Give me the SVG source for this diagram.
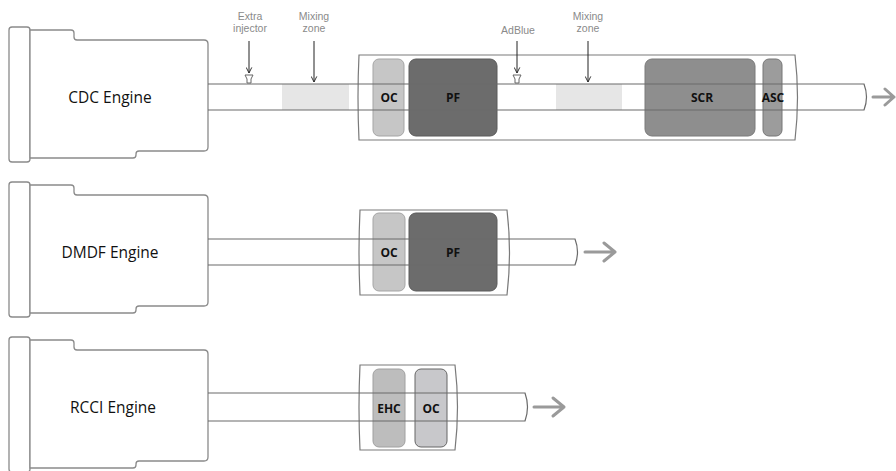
<svg xmlns="http://www.w3.org/2000/svg" width="896" height="471" viewBox="0 0 896 471">
<defs>
<style>
.eng{fill:#fff;stroke:#8a8a8a;stroke-width:1.3}
.elabel{font-family:"Open Sans","Liberation Sans",sans-serif;font-size:15.5px;fill:#111;text-anchor:middle}
.box{fill:#fff;stroke:#7a7a7a;stroke-width:1.2}
.pipe{fill:none;stroke:#6a6a6a;stroke-width:1.2}
.cat{font-family:"Open Sans","Liberation Sans",sans-serif;font-size:12px;font-weight:bold;fill:#111;text-anchor:middle}
.note{font-family:"Liberation Sans","Open Sans",sans-serif;font-size:10.5px;fill:#8a8a8a;text-anchor:middle}
.down{stroke:#222;stroke-width:1;fill:none;marker-end:url(#vhead)}
.out{stroke:#9a9a9a;stroke-width:3;fill:none;stroke-linecap:round;stroke-linejoin:round}
.mix{fill:#e6e6e6}
.noz{fill:#fff;stroke:#666;stroke-width:1}
</style>
<marker id="vhead" viewBox="0 0 10 10" refX="9" refY="5" markerWidth="7" markerHeight="7" orient="auto" markerUnits="userSpaceOnUse">
<path d="M1,1 L9,5 L1,9" fill="none" stroke="#222" stroke-width="1.3"/>
</marker>
<g id="engshape">
<rect x="9" y="27" width="21" height="135" rx="3"/>
<path d="M30,30 H71 Q74,30 74,33 V37 Q74,40 77,40 H204 Q208,40 208,44 V147 Q208,151 204,151 H139 Q136,151 136,154 V155 Q136,158 133,158 H30 Z"/>
</g>
</defs>

<g id="cdc-engine">
<use href="#engshape" class="eng"/>
<text class="elabel" x="110" y="103">CDC Engine</text>
</g>
<g id="dmdf-engine">
<use href="#engshape" class="eng" transform="translate(0,155)"/>
<text class="elabel" x="110" y="258">DMDF Engine</text>
</g>
<g id="rcci-engine">
<use href="#engshape" class="eng" transform="translate(0,310)"/>
<text class="elabel" x="113" y="413">RCCI Engine</text>
</g>

<g id="cdc-box">
<path class="box" d="M359,55 H795 Q800,97 795,140 H359 Q357,97 359,55 Z"/>
</g>
<g id="mixing-zone-1"><rect class="mix" x="282" y="84" width="67" height="26"/></g>
<g id="mixing-zone-2"><rect class="mix" x="556" y="84" width="66" height="26"/></g>
<g id="cdc-oc"><rect x="373" y="59" width="31" height="77" rx="6" fill="#c6c6c6" stroke="#a5a5a5"/></g>
<g id="cdc-pf"><rect x="409" y="59" width="88" height="77" rx="7" fill="#6c6c6c" stroke="#5a5a5a"/></g>
<g id="cdc-scr"><rect x="645" y="59" width="110" height="77" rx="7" fill="#8e8e8e" stroke="#7a7a7a"/></g>
<g id="cdc-asc"><rect x="763" y="59" width="19" height="77" rx="6" fill="#9c9c9c" stroke="#777"/></g>
<path class="pipe" d="M208,84 H864 Q869,97 864,110 H208"/>
<text class="cat" x="389" y="102">OC</text>
<text class="cat" x="453" y="102">PF</text>
<text class="cat" x="702" y="102">SCR</text>
<text class="cat" x="773" y="102">ASC</text>

<g id="extra-injector">
<path class="noz" d="M245,75 H253 L251,79 V83 H247 V79 Z"/>
<text class="note" x="250" y="20">Extra</text>
<text class="note" x="250" y="32">injector</text>
</g>
<g id="mixing-label-1">
<text class="note" x="314" y="20">Mixing</text>
<text class="note" x="314" y="32">zone</text>
</g>
<g id="adblue">
<path class="noz" d="M513,75 H521 L519,79 V83 H515 V79 Z"/>
<text class="note" x="518" y="34">AdBlue</text>
</g>
<g id="mixing-label-2">
<text class="note" x="588" y="20">Mixing</text>
<text class="note" x="588" y="32">zone</text>
</g>

<g id="dmdf-box"><path class="box" d="M360,210 H507 Q512,252 507,295 H360 Q358,252 360,210 Z"/></g>
<g id="dmdf-oc"><rect x="373" y="213" width="32" height="78" rx="6" fill="#c6c6c6" stroke="#a5a5a5"/></g>
<g id="dmdf-pf"><rect x="409" y="213" width="88" height="78" rx="7" fill="#6c6c6c" stroke="#5a5a5a"/></g>
<path class="pipe" d="M208,239 H575 Q580,252 575,265 H208"/>
<text class="cat" x="389" y="257">OC</text>
<text class="cat" x="453" y="257">PF</text>

<g id="rcci-box"><path class="box" d="M360,365 H455 Q460,407 455,450 H360 Q358,407 360,365 Z"/></g>
<g id="rcci-ehc"><rect x="373" y="369" width="32" height="78" rx="6" fill="#bdbdbd" stroke="#a0a0a0"/></g>
<g id="rcci-oc"><rect x="415" y="369" width="32" height="78" rx="6" fill="#c8c8cb" stroke="#666"/></g>
<path class="pipe" d="M208,393 H525 Q530,407 525,421 H208"/>
<text class="cat" x="389" y="413">EHC</text>
<text class="cat" x="431" y="413">OC</text>

<g id="connectors">
<line class="down" x1="249" y1="41" x2="249" y2="73"/>
<line class="down" x1="314" y1="41" x2="314" y2="82"/>
<line class="down" x1="517" y1="41" x2="517" y2="73"/>
<line class="down" x1="588" y1="41" x2="588" y2="82"/>
<path class="out" d="M873,97 H894 M885,89 L894,97 L885,105"/>
<path class="out" d="M585,252 H615 M604,243 L615,252 L604,261"/>
<path class="out" d="M534,407 H564 M553,398 L564,407 L553,416"/>
</g>
</svg>
